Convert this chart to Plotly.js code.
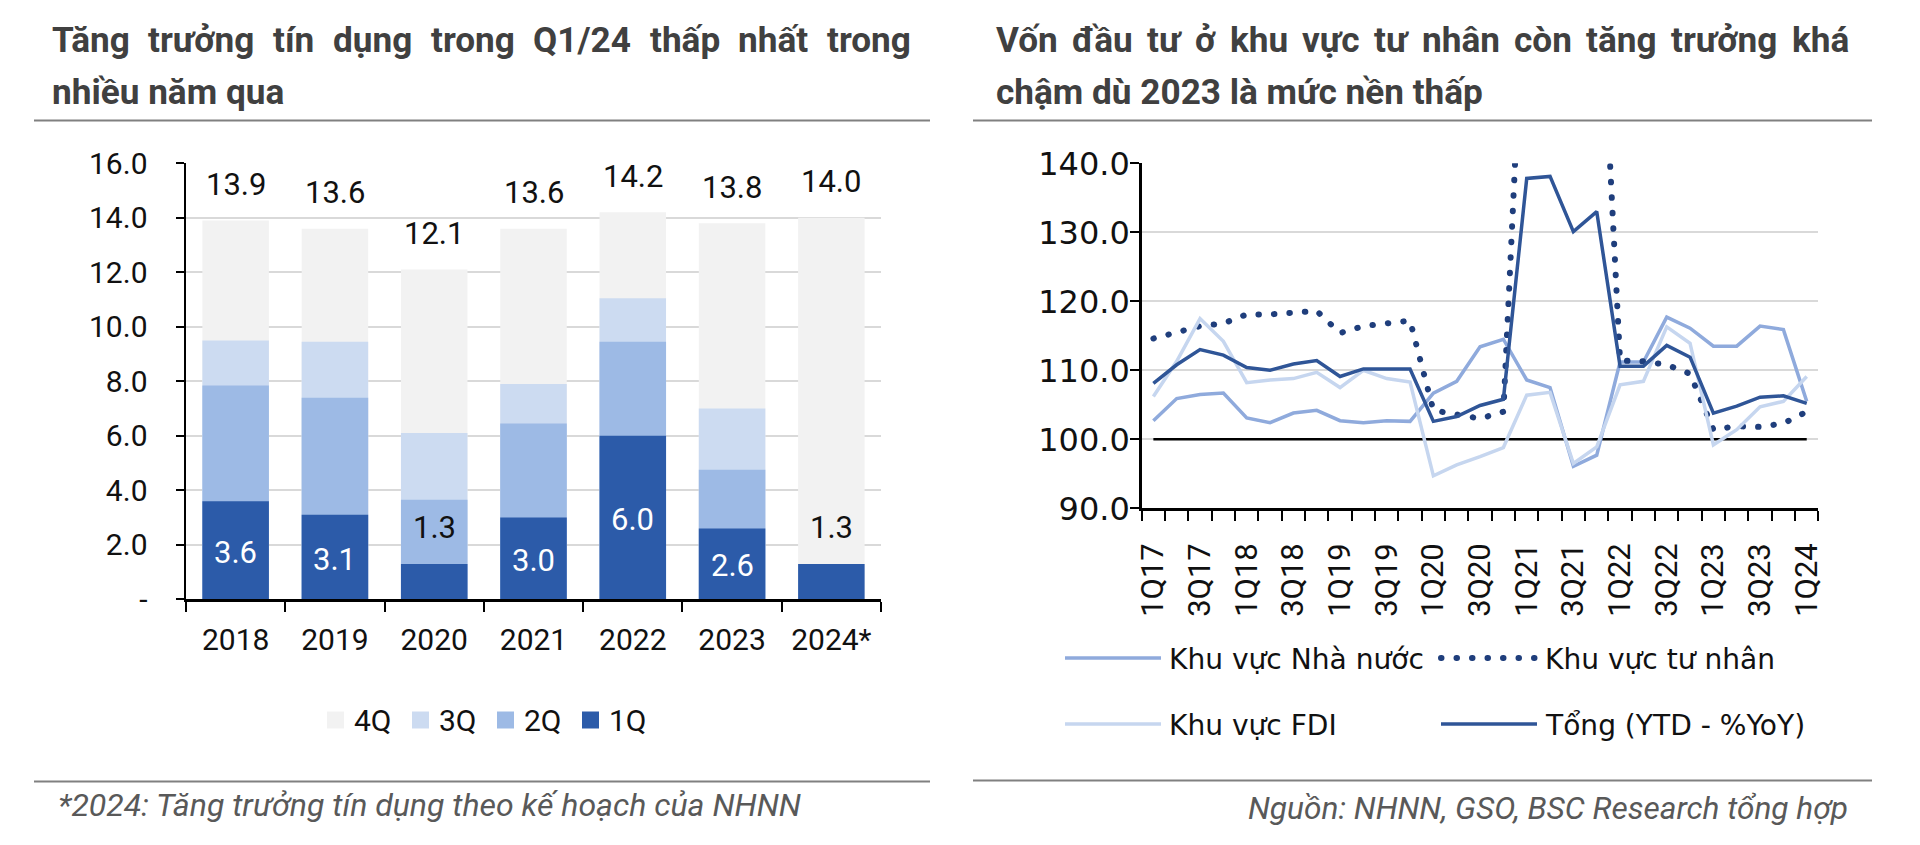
<!DOCTYPE html>
<html>
<head>
<meta charset="utf-8">
<script src="https://cdn.plot.ly/plotly-3.0.1.min.js"></script>
<style>
html, body { margin: 0; padding: 0; background: #ffffff; }
#chart { width: 1920px; height: 845px; }
</style>
</head>
<body>
<div id="chart"></div>
<script>
// ---------------- Left chart data (cumulative YTD credit growth, %) ----------------
const years = ['2018', '2019', '2020', '2021', '2022', '2023', '2024*'];
const cum1Q = [3.6, 3.1, 1.3, 3.0, 6.0, 2.6, 1.3];
const cum2Q = [7.85, 7.4, 3.65, 6.45, 9.45, 4.75, null];
const cum3Q = [9.5, 9.45, 6.1, 7.9, 11.05, 7.0, null];
const cum4Q = [13.9, 13.6, 12.1, 13.6, 14.2, 13.8, 14.0];
const leftSeriesNames = ['4Q', '3Q', '2Q', '1Q'];
const leftYTickVals = [0, 2, 4, 6, 8, 10, 12, 14, 16];
const leftYTickText = ['-', '2.0', '4.0', '6.0', '8.0', '10.0', '12.0', '14.0', '16.0'];

// ---------------- Right chart data (investment, YTD %YoY) ----------------
const quarters = ['1Q17','2Q17','3Q17','4Q17','1Q18','2Q18','3Q18','4Q18',
                  '1Q19','2Q19','3Q19','4Q19','1Q20','2Q20','3Q20','4Q20',
                  '1Q21','2Q21','3Q21','4Q21','1Q22','2Q22','3Q22','4Q22',
                  '1Q23','2Q23','3Q23','4Q23','1Q24'];
const nhaNuoc = [102.7, 105.9, 106.5, 106.7, 103.1, 102.4, 103.8, 104.2,
                 102.7, 102.4, 102.7, 102.6, 106.7, 108.4, 113.4, 114.5,
                 108.6, 107.5, 96.1, 97.7, 111.2, 111.2, 117.7, 116.1,
                 113.5, 113.5, 116.4, 115.9, 105.5];
const tuNhan = [114.6, 115.5, 116.4, 116.8, 118.1, 118.1, 118.3, 118.6,
                115.4, 116.4, 116.8, 117.2, 104.2, 103.7, 103.0, 104.0,
                176.0, 180.0, 174.0, 178.0, 111.4, 111.3, 110.8, 109.5,
                101.4, 101.9, 101.8, 102.3, 104.0];
const fdi = [106.2, 111.3, 117.5, 114.2, 108.2, 108.6, 108.8, 109.7,
             107.5, 110.0, 108.8, 108.3, 94.7, 96.3, 97.5, 98.8,
             106.4, 106.8, 96.5, 98.9, 107.9, 108.4, 116.3, 113.9,
             99.2, 101.4, 104.7, 105.5, 109.1];
const tong = [108.1, 110.8, 113.0, 112.2, 110.4, 110.0, 110.9, 111.4,
              109.1, 110.2, 110.2, 110.2, 102.6, 103.3, 104.9, 105.8,
              137.8, 138.1, 130.1, 133.0, 110.6, 110.6, 113.6, 111.9,
              103.8, 104.8, 106.1, 106.3, 105.2];
const baselineValue = 100;
const rightSeriesNames = ['Khu vực Nhà nước', 'Khu vực tư nhân', 'Khu vực FDI', 'Tổng (YTD - %YoY)'];
const rightYTickVals = [90, 100, 110, 120, 130, 140];
const rightYTickText = ['90.0', '100.0', '110.0', '120.0', '130.0', '140.0'];

// ---------------- Texts ----------------
const leftTitle1 = 'Tăng trưởng tín dụng trong Q1/24 thấp nhất trong';
const leftTitle2 = 'nhiều năm qua';
const rightTitle1 = 'Vốn đầu tư ở khu vực tư nhân còn tăng trưởng khá';
const rightTitle2 = 'chậm dù 2023 là mức nền thấp';
const leftNote = '*2024: Tăng trưởng tín dụng theo kế hoạch của NHNN';
const rightNote = 'Nguồn: NHNN, GSO, BSC Research tổng hợp';

// ---------------- Styles ----------------
const W = 1920, H = 845;
const px = v => v / W;
const py = v => 1 - v / H;
const barColors = {'4Q': '#F2F2F2', '3Q': '#CCDBF1', '2Q': '#9DBAE5', '1Q': '#2C5BA9'};
const lineColors = ['#8FAADC', '#1F3E7C', '#C6D6EF', '#2F5597'];
const FONT = 'Roboto';
const WIDE = 'DejaVu Sans';

const canvas = document.createElement('canvas');
const ctx = canvas.getContext('2d');
function measure(text, spec) { ctx.font = spec; return ctx.measureText(text).width; }
function fitSize(text, family, weight, style, target) {
  return 100 * target / measure(text, `${style} ${weight} 100px ${family}`);
}

const annotations = [];
const shapes = [];

// justified title line
function justified(text, x0, x1, yc, size) {
  const words = text.split(' ');
  const spec = `normal bold ${size}px ${FONT}`;
  const widths = words.map(w => measure(w, spec));
  const total = widths.reduce((a, b) => a + b, 0);
  const gap = (x1 - x0 - total) / (words.length - 1);
  let x = x0;
  words.forEach((w, i) => {
    annotations.push({xref: 'paper', yref: 'paper', x: px(x), y: py(yc), xanchor: 'left', yanchor: 'middle',
      text: w, showarrow: false, borderpad: 0, borderwidth: 0,
      font: {family: FONT, size: size, color: '#404040', weight: 'bold'}});
    x += widths[i] + gap;
  });
}
function plainText(text, x, yc, size, opts) {
  annotations.push(Object.assign({xref: 'paper', yref: 'paper', x: px(x), y: py(yc), xanchor: 'left', yanchor: 'middle',
    text: text, showarrow: false, borderpad: 0, borderwidth: 0,
    font: {family: FONT, size: size, color: '#404040', weight: 'bold'}}, opts || {}));
}

const titleSize = 0.5 * (fitSize(leftTitle2, FONT, 'bold', 'normal', 240) + fitSize(rightTitle2, FONT, 'bold', 'normal', 471));
justified(leftTitle1, 52, 911, 40, titleSize);
plainText(leftTitle2, 52, 92, titleSize);
justified(rightTitle1, 996, 1849, 40, titleSize);
plainText(rightTitle2, 996, 92, titleSize);

// footers
const noteSizeL = fitSize(leftNote, FONT, 'normal', 'italic', 744);
const noteSizeR = fitSize(rightNote, FONT, 'normal', 'italic', 600);
plainText(leftNote, 58, 805.3, noteSizeL, {font: {family: FONT, size: noteSizeL, color: '#595959', style: 'italic'}});
plainText(rightNote, 1848, 808.3, noteSizeR, {xanchor: 'right', font: {family: FONT, size: noteSizeR, color: '#595959', style: 'italic'}});

// rules
[[34, 930, 120.5], [973, 1872, 120.5], [34, 930, 781.5], [973, 1872, 780.5]].forEach(r => {
  shapes.push({type: 'line', xref: 'paper', yref: 'paper', x0: px(r[0]), x1: px(r[1]), y0: py(r[2]), y1: py(r[2]),
    line: {color: '#808080', width: 2}});
});

// ---------------- Left bars ----------------
const leftCum = {'4Q': cum4Q, '3Q': cum3Q, '2Q': cum2Q, '1Q': cum1Q};
const traces = [];
leftSeriesNames.forEach(n => {
  traces.push({type: 'bar', name: n, x: years, y: leftCum[n], xaxis: 'x', yaxis: 'y',
    marker: {color: barColors[n], line: {width: 0}}, showlegend: false, hoverinfo: 'skip'});
});
// data labels (x given as category index)
years.forEach((yr, i) => {
  annotations.push({xref: 'x', yref: 'y', x: i, y: cum4Q[i], yshift: 36, yanchor: 'middle',
    text: cum4Q[i].toFixed(1), showarrow: false, font: {family: FONT, size: 31, color: '#111111'}});
  const inside = cum1Q[i] >= 2;
  annotations.push({xref: 'x', yref: 'y', x: i, y: inside ? cum1Q[i] / 2 : cum1Q[i], yshift: inside ? -2 : 36,
    yanchor: 'middle', text: cum1Q[i].toFixed(1), showarrow: false,
    font: {family: FONT, size: 31, color: inside ? '#FFFFFF' : '#111111'}});
});
// left legend
leftSeriesNames.forEach((n, k) => {
  const x0 = 327 + 85 * k;
  shapes.push({type: 'rect', xref: 'paper', yref: 'paper', x0: px(x0), x1: px(x0 + 17), y0: py(728.5), y1: py(711.5),
    fillcolor: barColors[n], line: {width: 0}});
  plainText(n, x0 + 27, 720, 30, {font: {family: FONT, size: 30, color: '#111111'}});
});

// ---------------- Right lines ----------------
const qIdx = quarters.map((q, i) => i);
traces.push({type: 'scatter', mode: 'lines', x: [qIdx[0], qIdx[qIdx.length - 1]], y: [baselineValue, baselineValue],
  xaxis: 'x2', yaxis: 'y2', line: {color: '#000000', width: 2.5}, showlegend: false, hoverinfo: 'skip'});
const rightSeries = [nhaNuoc, tuNhan, fdi, tong];
rightSeries.forEach((s, k) => {
  traces.push({type: 'scatter', mode: 'lines', name: rightSeriesNames[k], x: qIdx, y: s, xaxis: 'x2', yaxis: 'y2',
    line: {color: lineColors[k], width: k === 1 ? 6 : 3.5, dash: k === 1 ? '6px,9px' : 'solid'},
    showlegend: false, hoverinfo: 'skip'});
});
// right legend (2 x 2)
const legendSize = fitSize(rightSeriesNames[0], WIDE, 'normal', 'normal', 255);
rightSeriesNames.forEach((n, k) => {
  const col = k % 2, row = Math.floor(k / 2);
  const x0 = [1065, 1441][col], yc = [658, 724][row];
  shapes.push({type: 'line', xref: 'paper', yref: 'paper', x0: px(x0), x1: px(x0 + 96), y0: py(yc), y1: py(yc),
    line: {color: lineColors[k], width: k === 1 ? 6 : 3.5, dash: k === 1 ? '6px,9px' : 'solid'}});
  plainText(n, x0 + 104, yc + 1, legendSize, {font: {family: WIDE, size: legendSize, color: '#111111'}});
});

const rightTickVals = qIdx.filter(i => i % 2 === 0);
const rightTickText = rightTickVals.map(i => quarters[i]);

const layout = {
  width: W, height: H,
  margin: {l: 0, r: 0, t: 0, b: 0, pad: 0},
  paper_bgcolor: '#ffffff', plot_bgcolor: '#ffffff',
  font: {family: FONT, color: '#111111'},
  showlegend: false,
  barmode: 'overlay', bargap: 0.33,
  xaxis: {domain: [px(186), px(881)], anchor: 'y', type: 'category', range: [-0.5, 6.5],
    showline: true, linecolor: '#000000', linewidth: 2.5, showgrid: false, zeroline: false,
    ticks: 'outside', tickson: 'boundaries', ticklen: 10, tickwidth: 2, tickcolor: '#000000',
    tickfont: {family: FONT, size: 30, color: '#111111'}, ticklabelstandoff: 12, fixedrange: true},
  yaxis: {domain: [py(599.3), py(163.3)], anchor: 'x', range: [0, 16],
    tickmode: 'array', tickvals: leftYTickVals, ticktext: leftYTickText,
    showline: true, linecolor: '#000000', linewidth: 2.5, zeroline: false,
    showgrid: true, gridcolor: '#D9D9D9', gridwidth: 2,
    ticks: 'outside', ticklen: 8, tickwidth: 2, tickcolor: '#000000',
    tickfont: {family: FONT, size: 30, color: '#111111'}, ticklabelstandoff: 22, fixedrange: true},
  xaxis2: {domain: [px(1141.7), px(1818.4)], anchor: 'y2', range: [-0.5, 28.5],
    tickmode: 'array', tickvals: rightTickVals, ticktext: rightTickText, tickangle: -90,
    showline: true, linecolor: '#000000', linewidth: 2.5, showgrid: false, zeroline: false,
    ticks: '', minor: {ticks: 'outside', tick0: -0.5, dtick: 1, ticklen: 10, tickwidth: 2, tickcolor: '#000000', showgrid: false},
    tickfont: {family: FONT, size: 31, color: '#111111'}, ticklabelstandoff: 20, fixedrange: true},
  yaxis2: {domain: [py(508.3), py(163.3)], anchor: 'x2', range: [90, 140],
    tickmode: 'array', tickvals: rightYTickVals, ticktext: rightYTickText,
    showline: true, linecolor: '#000000', linewidth: 2.5, zeroline: false,
    showgrid: true, gridcolor: '#D9D9D9', gridwidth: 2,
    ticks: 'outside', ticklen: 9, tickwidth: 2, tickcolor: '#000000',
    tickfont: {family: WIDE, size: 32, color: '#111111'}, ticklabelstandoff: -6, fixedrange: true},
  annotations: annotations,
  shapes: shapes
};

Plotly.newPlot('chart', traces, layout, {staticPlot: true, displayModeBar: false}).then(gd => {
  gd.querySelectorAll('path').forEach(p => {
    if (p.style.stroke === 'rgb(31, 62, 124)') {
      p.style.strokeLinecap = 'round';
      p.style.strokeDasharray = '0.5px, 15px';
    }
  });
});
</script>
</body>
</html>
